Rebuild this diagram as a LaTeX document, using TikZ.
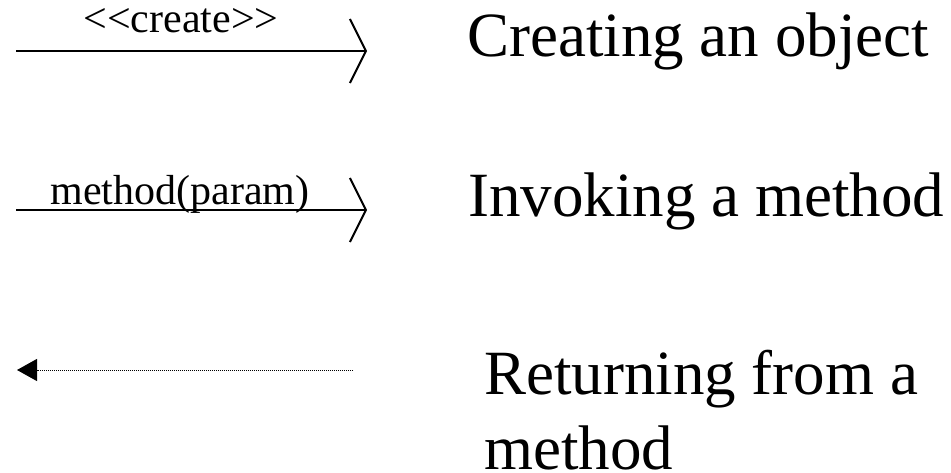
\documentclass[tikz,border=0pt]{standalone}
\usepackage{fontspec}
\setmainfont{Liberation Serif}[Ligatures=TeXOff]
\usetikzlibrary{arrows.meta}

\begin{document}
\begin{tikzpicture}[x=1pt, y=-1pt,
  msglabel/.style={inner sep=0pt, anchor=base, font=\fontsize{42}{48}\selectfont},
  legend/.style={inner sep=0pt, anchor=base west, font=\fontsize{63}{72}\selectfont},
  callarrow/.style={line width=2pt, -{Straight Barb[length=16pt, width=64pt, line width=2pt]}},
  returnarrow/.style={line width=1pt, dash pattern=on 1pt off 1pt, -{Triangle[length=20pt, width=22pt]}}]

  % canvas
  \fill[white] (0,0) rectangle (951,473);
  \useasboundingbox (0,0) rectangle (951,473);

  % create message
  \coordinate (createS) at (16,51);
  \coordinate (createE) at (367,51);
  \draw[callarrow] (createS) -- (createE);
  \node[msglabel] (createlbl) at (181,33) {<<create>>};
  \node[legend] (createtxt) at (467,57) {Creating an object};

  % method call
  \coordinate (callS) at (16,210);
  \coordinate (callE) at (367,210);
  \draw[callarrow] (callS) -- (callE);
  \node[msglabel] (calllbl) at (180,205) {method(param)};
  \node[legend] (calltxt) at (468,217) {Invoking a method};

  % return from method
  \coordinate (retS) at (353,370);
  \coordinate (retE) at (17,370);
  \draw[returnarrow] (retS) -- (retE);
  \node[legend] (rettxt) at (484,394) {Returning from a};
  \node[legend] (rettxt2) at (484,469) {method};
\end{tikzpicture}
\end{document}
